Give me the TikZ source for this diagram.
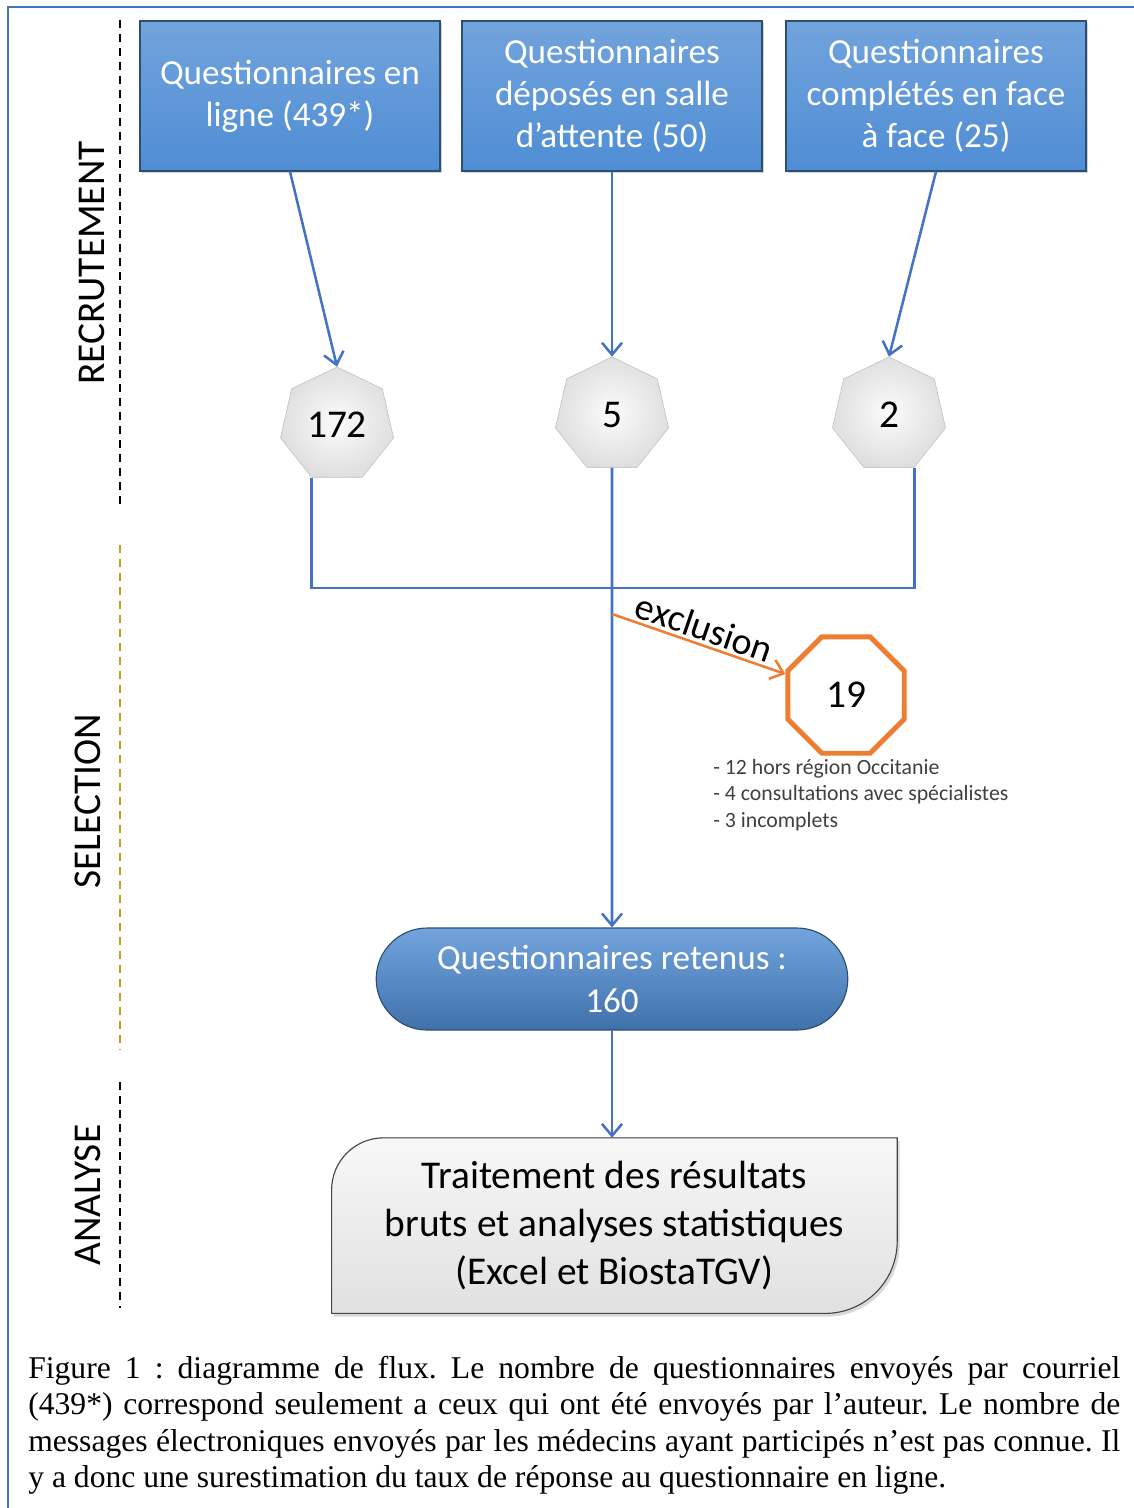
\documentclass[tikz,border=0pt]{standalone}
\usepackage{fontspec}
\setmainfont{Carlito}
\newfontfamily\captionfont{Liberation Serif}
\usetikzlibrary{positioning, arrows.meta, calc, shapes.geometric, shapes.misc, shadows, backgrounds}

\definecolor{frameblue}{RGB}{68,114,196}
\definecolor{boxblue}{RGB}{79,141,212}
\definecolor{flowblue}{RGB}{68,114,196}
\definecolor{exclorange}{RGB}{237,125,49}
\definecolor{selyellow}{RGB}{196,158,36}

\begin{document}
\frenchspacing
\begin{tikzpicture}[
		>={Straight Barb[length=3mm, width=5mm]},
		% Blue source boxes (fixed size, same row)
		srcbox/.style={
				rectangle, draw=boxblue!55!black, thick,
				top color=boxblue!80!white, bottom color=boxblue,
				minimum width=7.5cm, minimum height=3.75cm,
				text=white, align=center, font=\fontsize{25}{30}\selectfont,
				drop shadow={opacity=0.35, shadow xshift=0.06cm, shadow yshift=-0.06cm}
			},
		% Grey counting polygons
		countnode/.style={
				regular polygon, regular polygon sides=7, minimum size=2.9cm, inner sep=0pt,
				draw=gray!50, inner color=gray!3, outer color=gray!25,
				font=\fontsize{28}{30}\selectfont
			},
		% Orange exclusion polygon
		exclnode/.style={
				regular polygon, regular polygon sides=8, minimum size=3.15cm, inner sep=0pt,
				draw=exclorange, line width=3.5pt, fill=white,
				font=\fontsize{28}{30}\selectfont
			},
		% Retained questionnaires
		keptbox/.style={
				rounded rectangle, draw=boxblue!55!black, thick,
				top color=boxblue!80!white, bottom color=boxblue!80!black,
				minimum width=12.025cm, minimum height=2.55cm,
				text=white, align=center, font=\fontsize{25}{30}\selectfont
			},
		% Final analysis block (outline drawn separately)
		analysisbox/.style={
				rectangle, minimum width=14.125cm, minimum height=4.375cm,
				align=center, font=\fontsize{28}{34}\selectfont
			},
		% Phase labels and separators on the left
		phaselab/.style={rotate=90, font=\fontsize{28}{30}\selectfont},
		phasesep/.style={line width=2pt, dash pattern=on 0.2cm off 0.15cm},
		% Arrows
		arrowflow/.style={draw=flowblue, line width=1.8pt},
		arrowexcl/.style={->, draw=exclorange, line width=1.8pt},
		notetext/.style={align=left, text=black!75, inner sep=0pt, font=\fontsize{15.5}{18.8}\selectfont},
		captext/.style={align=justify, text width=27.3cm, inner sep=0pt, font=\captionfont\fontsize{22.5}{25.9}\selectfont}
	]

	\useasboundingbox (0,0) rectangle (28.35,-37.7);

	% ==========================================
	% 1. FRAME AND PHASES
	% ==========================================
	\draw[frameblue, line width=1pt] (0.2,-37.7) -- (0.2,-0.175) -- (28.35,-0.175);

	\node[phaselab] (recrut) at (2.3,-6.575) {RECRUTEMENT};
	\node[phaselab] (select) at (2.2,-20.03) {SELECTION};
	\node[phaselab] (analyse) at (2.2,-29.875) {ANALYSE};

	\draw[phasesep, black] (3.0,-0.5) -- (3.0,-12.625);
	\draw[phasesep, selyellow] (3.0,-13.625) -- (3.0,-26.25);
	\draw[phasesep, black] (3.0,-27.05) -- (3.0,-32.7);

	% ==========================================
	% 2. RECRUITMENT
	% ==========================================
	\node[srcbox] (online) at (7.25,-2.4) {Questionnaires en\\ligne (439*)};
	\node[srcbox] (waiting) at (15.3,-2.4) {Questionnaires\\déposés en salle\\d’attente (50)};
	\node[srcbox] (facetoface) at (23.4,-2.4) {Questionnaires\\complétés en face\\à face (25)};

	\node[countnode] (n172) at (8.425,-10.625) {172};
	\node[countnode] (n5) at (15.3,-10.375) {5};
	\node[countnode] (n2) at (22.225,-10.375) {2};

	\draw[arrowflow, ->] (online.south) -- (n172.corner 1);
	\draw[arrowflow, ->] (waiting.south) -- (n5.corner 1);
	\draw[arrowflow, ->] (facetoface.south) -- (n2.corner 1);

	% ==========================================
	% 3. SELECTION
	% ==========================================
	\coordinate (junc) at (15.3,-14.7);
	\coordinate (exclstart) at ($(junc)+(0,-0.65)$);

	\node[exclnode] (excl) at (21.15,-17.375) {19};
	\node[notetext, anchor=north west] (notes) at (17.825,-18.975)
	{- 12 hors région Occitanie\\- 4 consultations avec spécialistes\\- 3 incomplets};

	\node[keptbox] (kept) at (15.3,-24.475) {Questionnaires retenus :\\160};

	\draw[arrowflow] (n172.corner 4) -- (n172.corner 4 |- junc) -- (n2.corner 5 |- junc) -- (n2.corner 5);
	\draw[arrowflow, ->] (n5.south) -- (kept.north);
	\draw[arrowexcl] (exclstart) -- node[sloped, above, inner sep=2pt, font=\fontsize{27}{30}\selectfont] {exclusion} (excl);

	% ==========================================
	% 4. ANALYSIS
	% ==========================================
	\node[analysisbox] (analysis) at (15.36,-30.64) {Traitement des résultats\\bruts et analyses statistiques\\(Excel et BiostaTGV)};
	\begin{scope}[on background layer]
		\filldraw[draw=gray!55!black, thick, top color=gray!6, bottom color=gray!24,
			drop shadow={opacity=0.3, shadow xshift=0.06cm, shadow yshift=-0.08cm}]
		(analysis.south west) -- ([yshift=-1.3cm]analysis.north west)
		arc[start angle=180, end angle=90, radius=1.3cm]
		-- (analysis.north east) -- ([yshift=1.8cm]analysis.south east)
		arc[start angle=0, end angle=-90, radius=1.8cm] -- cycle;
	\end{scope}

	\draw[arrowflow, ->] (kept.south) -- (kept.south |- analysis.north);

	% ==========================================
	% 5. CAPTION
	% ==========================================
	\node[captext, anchor=north west] (caption) at (0.7,-33.9)
	{Figure 1 : diagramme de flux. Le nombre de questionnaires envoyés par courriel\linebreak
		(439*) correspond seulement a ceux qui ont été envoyés par l’auteur. Le nombre de\linebreak
		messages électroniques envoyés par les médecins ayant participés n’est pas connue. Il\linebreak
		y a donc une surestimation du taux de réponse au questionnaire en ligne.};

\end{tikzpicture}
\end{document}
